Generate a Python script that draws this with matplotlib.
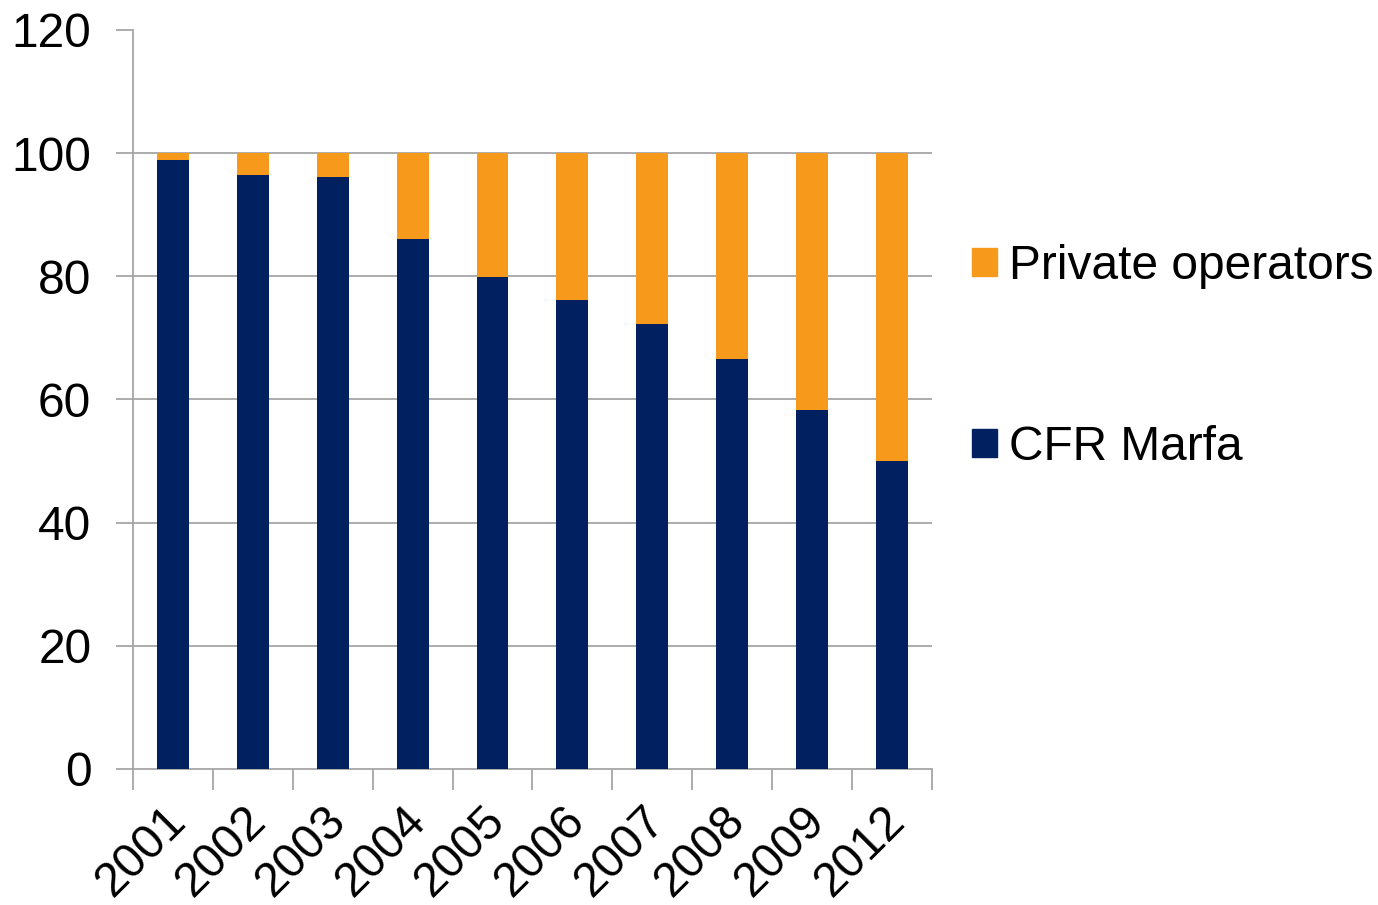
import numpy as np
import matplotlib
matplotlib.use('Agg')
import matplotlib.pyplot as plt
import matplotlib.transforms as mtransforms
from matplotlib.patches import Patch

plt.rcParams['font.family'] = ['Liberation Sans', 'DejaVu Sans']

# data
years = ['2001', '2002', '2003', '2004', '2005', '2006', '2007', '2008', '2009', '2012']
cfr_marfa = [98.9, 96.4, 96.2, 86.1, 79.9, 76.2, 72.2, 66.6, 58.3, 50.0]
private_ops = [100 - v for v in cfr_marfa]

navy = '#00205F'
orange = '#F7991B'
grid_grey = '#A6A6A6'

fig = plt.figure(figsize=(13.78, 9.05), dpi=100)
ax = fig.add_axes([0.0965, 0.1503, 0.5798, 0.8166])

x = np.arange(len(years))
ax.bar(x, cfr_marfa, width=0.4, color=navy, zorder=3)
ax.bar(x, private_ops, width=0.4, bottom=cfr_marfa, color=orange, zorder=3)

ax.set_xlim(-0.5, len(years) - 0.5)
ax.set_ylim(0, 120)

# gridlines (none at 120)
for g in [20, 40, 60, 80, 100]:
    ax.axhline(g, color=grid_grey, lw=1.3, zorder=1)

for s in ['top', 'right']:
    ax.spines[s].set_visible(False)
for s in ['left', 'bottom']:
    ax.spines[s].set_color(grid_grey)
    ax.spines[s].set_linewidth(1.3)

ax.set_yticks(range(0, 121, 20))
ax.tick_params(axis='y', length=12, width=1.3, color=grid_grey, labelsize=34.5, pad=18)

# ticks at category boundaries, labels at centres
ax.set_xticks(np.arange(-0.5, len(years), 1.0))
ax.set_xticklabels([])
ax.set_xticks(x, minor=True)
ax.set_xticklabels(years, minor=True, rotation=45, ha='right', va='top',
                   rotation_mode='anchor', fontsize=34.5)
ax.tick_params(axis='x', which='major', length=15, width=1.3, color=grid_grey, direction='out')
ax.tick_params(axis='x', which='minor', length=0, pad=21)
shift = mtransforms.ScaledTranslation(-10 / 100, 0, fig.dpi_scale_trans)
for lbl in ax.get_xticklabels(minor=True):
    lbl.set_transform(lbl.get_transform() + shift)

handles = [Patch(color=orange, label='Private operators'),
           Patch(color=navy, label='CFR Marfa')]
fig.legend(handles=handles, loc='upper left', bbox_to_anchor=(0.6915, 0.752),
           frameon=False, fontsize=34.5, handlelength=0.53, handleheight=0.53,
           handletextpad=0.25, labelspacing=2.85, borderaxespad=0)

fig.savefig('out.png', dpi=100)
